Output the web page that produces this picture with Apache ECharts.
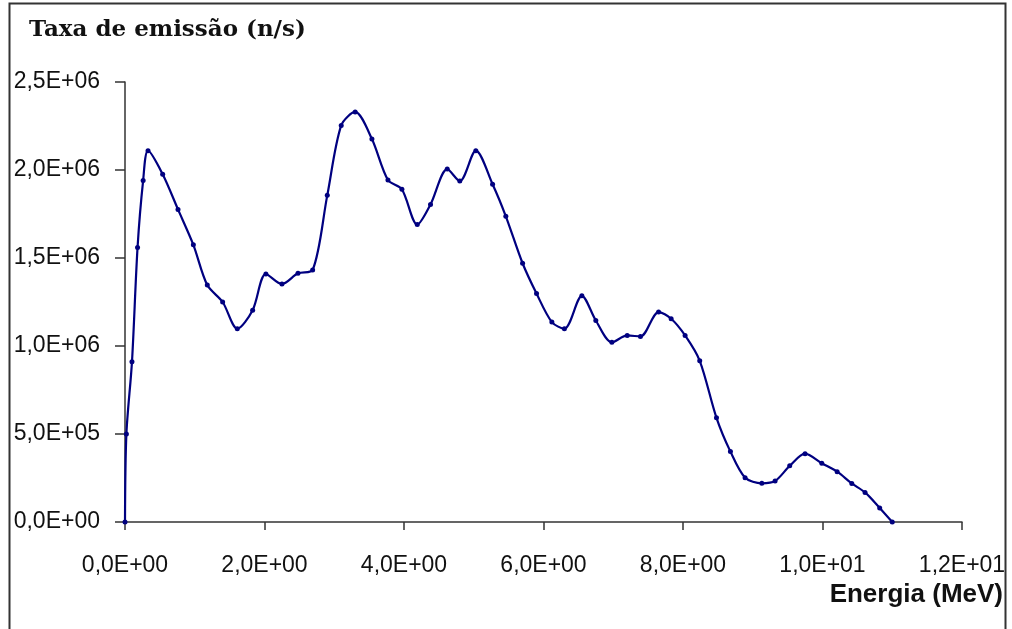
<!DOCTYPE html>
<html>
<head>
<meta charset="utf-8">
<script src="https://cdn.jsdelivr.net/npm/echarts@6/dist/echarts.min.js"></script>
<style>
html,body{margin:0;padding:0;background:#fff;}
#c{width:1012px;height:629px;}
</style>
</head>
<body>
<div id="c"></div>
<script>
// Energy (MeV)
const energy = [0, 0.02, 0.1, 0.18, 0.26, 0.33, 0.54, 0.76, 0.98, 1.18, 1.40, 1.61, 1.83, 2.02, 2.25, 2.48, 2.69, 2.90, 3.10, 3.30, 3.54, 3.77, 3.97, 4.19, 4.38, 4.62, 4.80, 5.03, 5.27, 5.46, 5.70, 5.90, 6.12, 6.30, 6.55, 6.75, 6.98, 7.20, 7.39, 7.65, 7.83, 8.03, 8.24, 8.48, 8.68, 8.89, 9.13, 9.32, 9.53, 9.75, 9.99, 10.21, 10.42, 10.61, 10.82, 11.0];
// Emission rate (n/s), in units of 1e6
const rateMillions = [0, 0.5, 0.91, 1.56, 1.94, 2.11, 1.976, 1.776, 1.575, 1.346, 1.25, 1.098, 1.203, 1.409, 1.352, 1.413, 1.432, 1.856, 2.253, 2.33, 2.176, 1.943, 1.89, 1.69, 1.804, 2.005, 1.937, 2.11, 1.919, 1.737, 1.47, 1.298, 1.136, 1.098, 1.285, 1.145, 1.021, 1.06, 1.054, 1.193, 1.155, 1.06, 0.916, 0.592, 0.40, 0.252, 0.22, 0.233, 0.319, 0.388, 0.334, 0.286, 0.219, 0.168, 0.08, 0];
const titleText = 'Taxa de emissão (n/s)';
const xTitleText = 'Energia (MeV)';

function sci(v) {
  let s = Number(v).toExponential(1);
  let m = s.split('e');
  let exp = parseInt(m[1], 10);
  let sign = exp < 0 ? '-' : '+';
  let e = String(Math.abs(exp)).padStart(2, '0');
  return m[0].replace('.', ',') + 'E' + sign + e;
}

const data = energy.map((e, i) => [e, rateMillions[i] * 1e6]);
const labelFont = "'Liberation Sans Narrow', 'Liberation Sans', Arial, sans-serif";

const chart = echarts.init(document.getElementById('c'), null, {renderer: 'canvas'});
chart.setOption({
  backgroundColor: '#fff',
  animation: false,
  grid: {left: 125, right: 50, top: 82, bottom: 107, containLabel: false},
  xAxis: {
    type: 'value', min: 0, max: 12, interval: 2,
    axisLine: {show: true, onZero: false, lineStyle: {color: '#333', width: 1.5}},
    axisTick: {show: true, length: 8, lineStyle: {color: '#333', width: 1.5}},
    splitLine: {show: false},
    axisLabel: {formatter: sci, fontFamily: labelFont, fontSize: 23, lineHeight: 23, color: '#111', margin: 32}
  },
  yAxis: {
    type: 'value', min: 0, max: 2500000, interval: 500000,
    axisLine: {show: true, lineStyle: {color: '#333', width: 1.5}},
    axisTick: {show: true, length: 10, lineStyle: {color: '#333', width: 1.5}},
    splitLine: {show: false},
    axisLabel: {formatter: sci, fontFamily: labelFont, fontSize: 23, lineHeight: 23, color: '#111', margin: 25}
  },
  graphic: [
    {type: 'rect', shape: {x: 9.5, y: 3.5, width: 996, height: 700}, style: {fill: 'none', stroke: '#333', lineWidth: 2}, silent: true, z: -1},
    {type: 'text', x: 29, y: 30, style: {text: titleText, font: "bold 23px 'DejaVu Serif', serif", fill: '#111', textAlign: 'left', textVerticalAlign: 'middle'}},
    {type: 'text', x: 1003, y: 595, style: {text: xTitleText, font: "bold 26px 'Liberation Sans', Arial, sans-serif", fill: '#111', textAlign: 'right', textVerticalAlign: 'middle'}}
  ],
  series: [{
    type: 'line',
    data: data,
    smooth: 0.3,
    symbol: 'circle',
    symbolSize: 5,
    showAllSymbol: true,
    lineStyle: {color: '#000080', width: 2.2},
    itemStyle: {color: '#000080'}
  }]
});
</script>
</body>
</html>
